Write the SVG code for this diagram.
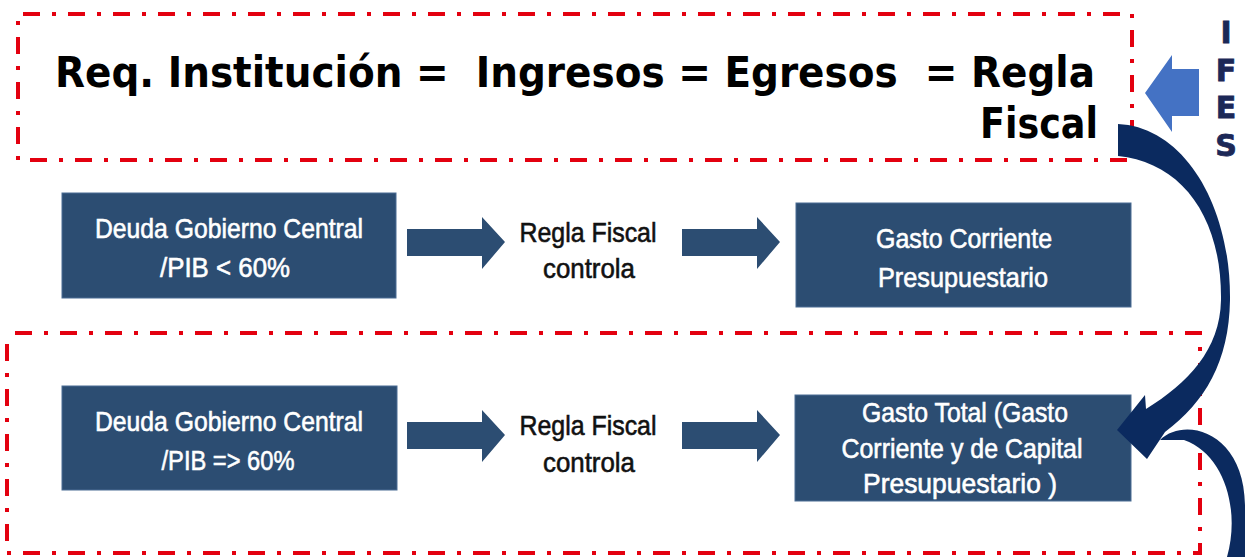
<svg xmlns="http://www.w3.org/2000/svg" width="1245" height="557" viewBox="0 0 1245 557">
<style>
.frame{fill:none;stroke:#e3000f;stroke-width:4;stroke-dasharray:17 12 4 12}
.box{fill:#2c4d72;stroke:#4a6d94;stroke-width:1}
.bt{font-family:"Liberation Sans",Arial,sans-serif;font-size:28px;fill:#ffffff;stroke:#ffffff;stroke-width:0.6;text-anchor:middle}
.lt{font-family:"Liberation Sans",Arial,sans-serif;font-size:28px;fill:#111111;stroke:#111111;stroke-width:0.6;text-anchor:middle}
.title{font-family:"DejaVu Sans",Verdana,sans-serif;font-weight:bold;font-size:43px;fill:#000000}
.ifes{font-family:"DejaVu Sans",Verdana,sans-serif;font-weight:bold;font-size:30px;fill:#1c2857;stroke:#1c2857;stroke-width:0.8;text-anchor:middle}
.blk{fill:#2c4d72}
.curve{fill:#0b2a5f}
</style>
<rect width="1245" height="557" fill="#ffffff"/>

<g id="frames">
<path class="frame" d="M23,14 L1132,14 L1132,160 L18,160 L18,20"/>
<path class="frame" d="M15,333 L1200,333 L1200,553 L7,553 L7,336"/>
</g>

<g id="title">
<text class="title" x="55" y="87" textLength="1040" lengthAdjust="spacingAndGlyphs" xml:space="preserve">Req. Institución =  Ingresos = Egresos  = Regla</text>
<text class="title" x="980" y="138" textLength="118" lengthAdjust="spacingAndGlyphs">Fiscal</text>
</g>

<g id="ifes">
<text class="ifes" x="1226" y="43">I</text>
<text class="ifes" x="1226" y="81">F</text>
<text class="ifes" x="1226" y="118">E</text>
<text class="ifes" x="1226" y="156">S</text>
</g>

<g id="node-deuda1">
<rect class="box" x="62" y="193" width="334" height="105"/>
<text class="bt" x="229" y="238" textLength="268" lengthAdjust="spacingAndGlyphs">Deuda Gobierno Central</text>
<text class="bt" x="225" y="277" textLength="130" lengthAdjust="spacingAndGlyphs">/PIB &lt; 60%</text>
</g>

<g id="node-regla1">
<text class="lt" x="588" y="242" textLength="137" lengthAdjust="spacingAndGlyphs">Regla Fiscal</text>
<text class="lt" x="589" y="278" textLength="92" lengthAdjust="spacingAndGlyphs">controla</text>
</g>

<g id="node-gasto-corriente">
<rect class="box" x="796" y="203" width="335" height="104"/>
<text class="bt" x="964" y="248" textLength="176" lengthAdjust="spacingAndGlyphs">Gasto Corriente</text>
<text class="bt" x="963" y="287" textLength="170" lengthAdjust="spacingAndGlyphs">Presupuestario</text>
</g>

<g id="node-deuda2">
<rect class="box" x="62" y="386" width="335" height="104"/>
<text class="bt" x="229" y="431" textLength="268" lengthAdjust="spacingAndGlyphs">Deuda Gobierno Central</text>
<text class="bt" x="228" y="470" textLength="133" lengthAdjust="spacingAndGlyphs">/PIB =&gt; 60%</text>
</g>

<g id="node-regla2">
<text class="lt" x="588" y="435" textLength="137" lengthAdjust="spacingAndGlyphs">Regla Fiscal</text>
<text class="lt" x="589" y="472" textLength="92" lengthAdjust="spacingAndGlyphs">controla</text>
</g>

<g id="node-gasto-total">
<rect class="box" x="795" y="395" width="336" height="106"/>
<text class="bt" x="965" y="422" textLength="206" lengthAdjust="spacingAndGlyphs">Gasto Total (Gasto</text>
<text class="bt" x="962" y="458" textLength="241" lengthAdjust="spacingAndGlyphs">Corriente y de Capital</text>
<text class="bt" x="960" y="493" textLength="194" lengthAdjust="spacingAndGlyphs">Presupuestario )</text>
</g>

<g id="connectors">
<path class="blk" d="M407,229 L482,229 L482,217 L505,242 L482,269 L482,256 L407,256 Z"/>
<path class="blk" d="M682,229 L757,229 L757,217 L780,242 L757,269 L757,256 L682,256 Z"/>
<path class="blk" transform="translate(0,193)" d="M407,229 L482,229 L482,217 L505,242 L482,269 L482,256 L407,256 Z"/>
<path class="blk" transform="translate(0,193)" d="M682,229 L757,229 L757,217 L780,242 L757,269 L757,256 L682,256 Z"/>
<path fill="#4472c4" d="M1145,93 L1172,55 L1172,69 L1199,69 L1199,116 L1172,116 L1172,132 Z"/>
<path class="curve" d="M1118,124 C1184,127 1231,205 1230,300 C1229,362 1205,402 1165,432 L1147,459 L1117,430 L1145,395 L1146,409 C1188,383 1220,350 1221,300 C1222,215 1180,162 1118,156 Z"/>
<path class="curve" d="M1160,440 C1185,416 1244,432 1245,505 L1245,557 L1227,557 C1240,512 1226,455 1184,440 Z"/>
</g>
</svg>
